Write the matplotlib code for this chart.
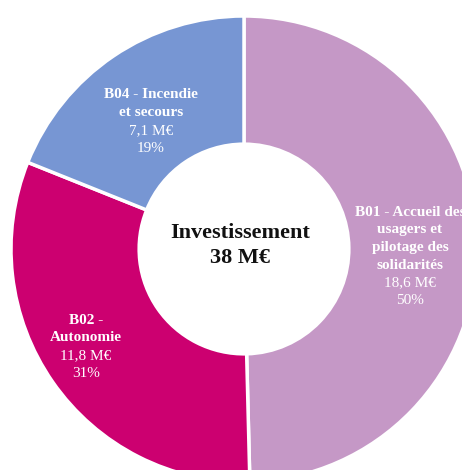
import matplotlib
matplotlib.use("Agg")
from matplotlib import pyplot as plt

# data
codes = ['B01 - Accueil des', 'B02 -', 'B04 - Incendie']
names = [['usagers et', 'pilotage des', 'solidarités'], ['Autonomie'], ['et secours']]
values = [18.6, 11.8, 7.1]
pcts = ['50%', '31%', '19%']
colors = ['#C598C6', '#CC0070', '#7796D3']
total_label = '38 M€'

W, H = 462, 470

plt.rcParams['font.family'] = ['Liberation Serif', 'DejaVu Serif']

fig = plt.figure(figsize=(W / 100, H / 100), dpi=100)
ax = fig.add_axes([0, 0, 1, 1])

cx, cy, R = 244, H - 249, 233
ax.pie(values, colors=colors, startangle=90, counterclock=False,
       center=(cx, cy), radius=R,
       wedgeprops=dict(width=R * 0.55, edgecolor='white', linewidth=2.5))

ax.set_xlim(0, W)
ax.set_ylim(0, H)
ax.set_aspect('equal')
ax.axis('off')


def draw_label(x, y0, bold_lines, plain_lines, step=17.7):
    y = y0
    for s in bold_lines:
        ax.text(x, H - y, s, ha='center', va='center', color='white',
                fontsize=11, fontweight='bold')
        y += step
    for s in plain_lines:
        ax.text(x, H - y, s, ha='center', va='center', color='white',
                fontsize=11)
        y += step


pos = [(410, 212), (86, 320), (151, 95)]
for i in range(3):
    money = ('%.1f' % values[i]).replace('.', ',') + ' M€'
    draw_label(pos[i][0], pos[i][1], [codes[i]] + names[i], [money, pcts[i]])

ax.text(240, H - 233, 'Investissement', ha='center', va='center',
        fontsize=16, fontweight='bold', color='#111111')
ax.text(240, H - 258, total_label, ha='center', va='center',
        fontsize=16, fontweight='bold', color='#111111')

plt.savefig('out.png', dpi=100)
